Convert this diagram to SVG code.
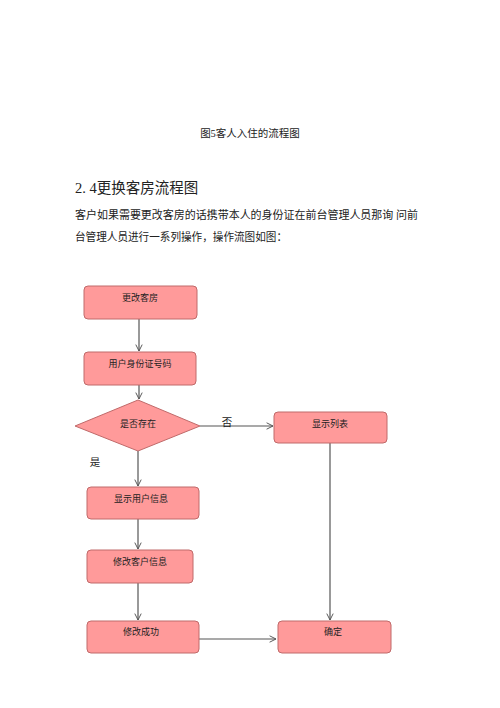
<svg xmlns="http://www.w3.org/2000/svg" width="500" height="708" viewBox="0 0 500 708">
<style>
text{font-family:"Liberation Serif","Noto Sans CJK SC",serif;fill:#222}
.node rect,.node polygon{fill:#ff9a9a;stroke:#c06a6a;stroke-width:1}
.node text{font-size:9px;text-anchor:middle}
.conn line,.conn polyline{stroke:#555;stroke-width:1.2;fill:none}
.lbl{font-size:10.5px}
</style>
<defs>
<marker id="arr" viewBox="0 0 10 10" refX="9" refY="5" markerWidth="8" markerHeight="8" orient="auto" markerUnits="userSpaceOnUse">
<path d="M1,1 L9,5 L1,9" fill="none" stroke="#555" stroke-width="1.2"/>
</marker>
</defs>
<rect width="500" height="708" fill="#fff"/>
<text x="250" y="137" font-size="10.5" text-anchor="middle">图5客人入住的流程图</text>
<text x="75" y="193" font-size="14.5">2. 4更换客房流程图</text>
<text x="75" y="219" font-size="11" textLength="343" lengthAdjust="spacingAndGlyphs">客户如果需要更改客房的话携带本人的身份证在前台管理人员那询 问前</text>
<text x="75" y="241" font-size="11" textLength="212" lengthAdjust="spacingAndGlyphs">台管理人员进行一系列操作，操作流图如图：</text>
<g class="conn">
<line x1="139" y1="319" x2="139" y2="351" marker-end="url(#arr)"/>
<line x1="139" y1="385" x2="139" y2="399" marker-end="url(#arr)"/>
<line x1="200" y1="426" x2="273" y2="426" marker-end="url(#arr)"/>
<line x1="138" y1="451" x2="138" y2="486" marker-end="url(#arr)"/>
<line x1="138" y1="519" x2="138" y2="549" marker-end="url(#arr)"/>
<line x1="138" y1="583" x2="138" y2="620" marker-end="url(#arr)"/>
<line x1="330" y1="443" x2="330" y2="620" marker-end="url(#arr)"/>
<line x1="199" y1="639" x2="276" y2="639" marker-end="url(#arr)"/>
</g>
<text class="lbl" x="227" y="426" text-anchor="middle">否</text>
<text class="lbl" x="95" y="466" text-anchor="middle">是</text>
<g id="n1" class="node"><rect x="84" y="286" width="113" height="33" rx="4"/><text x="140" y="301">更改客房</text></g>
<g id="n2" class="node"><rect x="84" y="352" width="112" height="33" rx="4"/><text x="140" y="367">用户身份证号码</text></g>
<g id="n3" class="node"><polygon points="138,400 200,426 138,451 75,426"/><text x="138" y="427">是否存在</text></g>
<g id="n4" class="node"><rect x="274" y="412" width="113" height="31" rx="4"/><text x="330" y="427">显示列表</text></g>
<g id="n5" class="node"><rect x="87" y="487" width="112" height="32" rx="4"/><text x="141" y="502">显示用户信息</text></g>
<g id="n6" class="node"><rect x="87" y="550" width="106" height="33" rx="4"/><text x="140" y="565">修改客户信息</text></g>
<g id="n7" class="node"><rect x="87" y="621" width="112" height="32" rx="4"/><text x="141" y="635">修改成功</text></g>
<g id="n8" class="node"><rect x="278" y="621" width="113" height="32" rx="4"/><text x="333" y="635">确定</text></g>
</svg>
